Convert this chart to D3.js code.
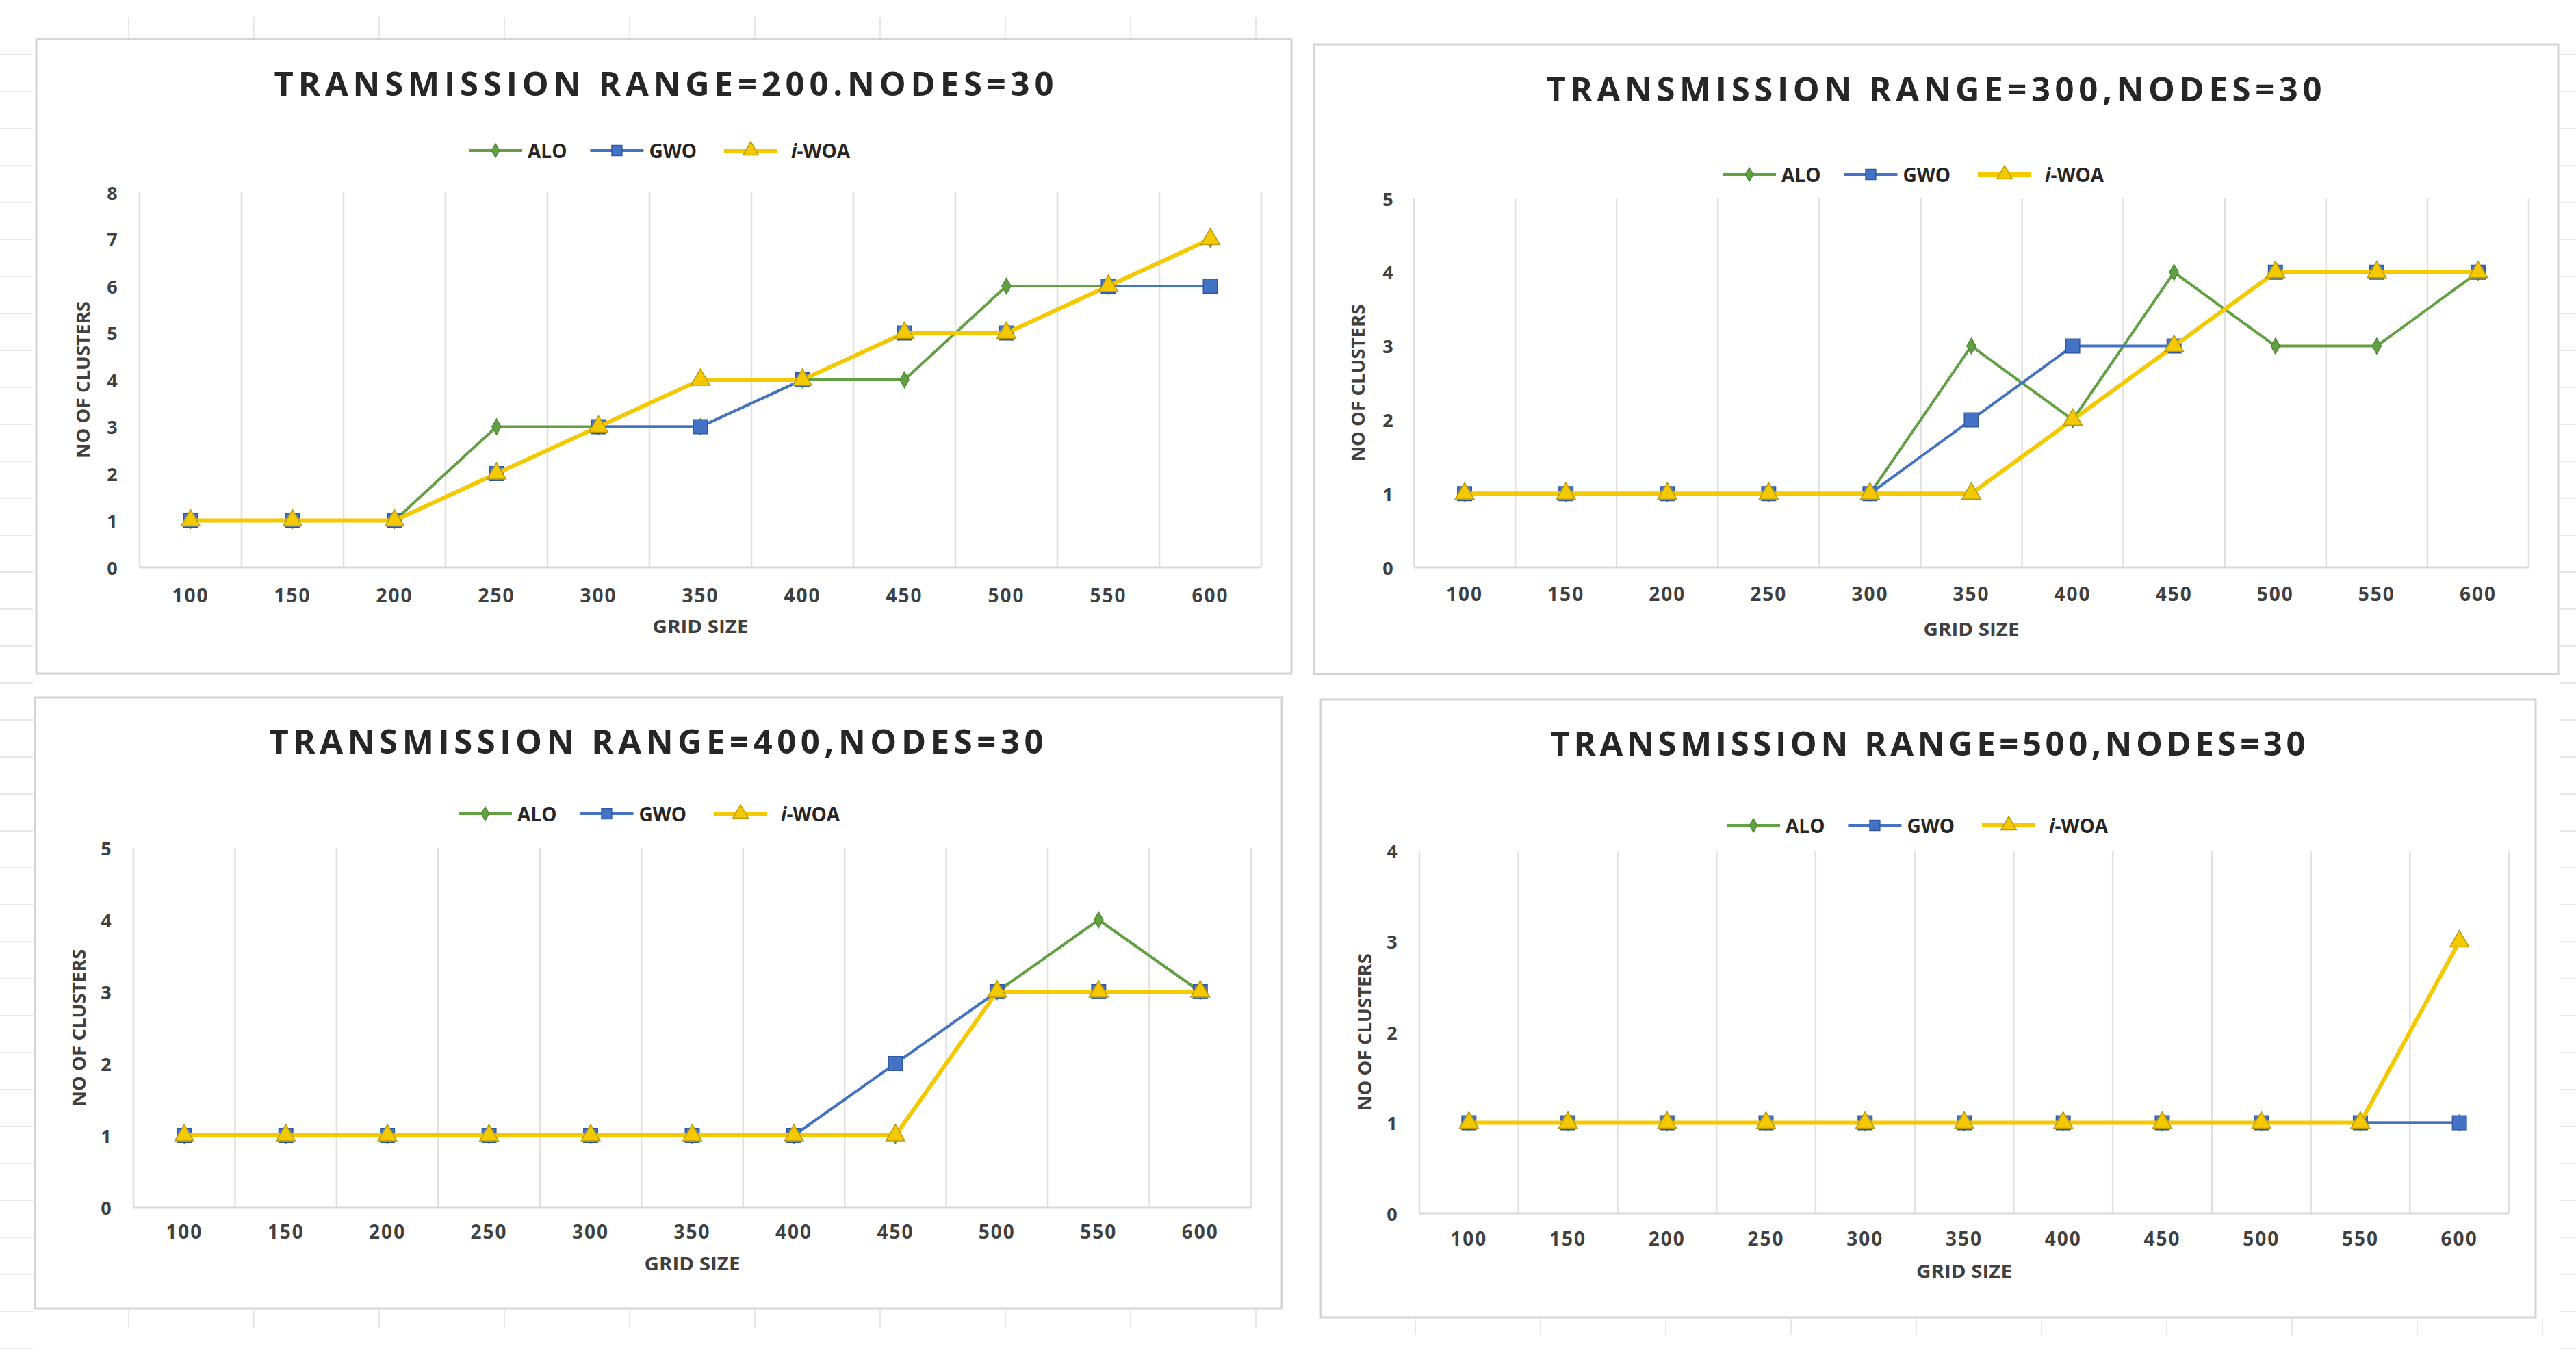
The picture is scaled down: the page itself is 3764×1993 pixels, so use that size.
<!DOCTYPE html>
<html>
<head>
<meta charset="utf-8">
<script src="https://cdn.jsdelivr.net/npm/d3@7"></script>
<style>
  html, body { margin: 0; padding: 0; background: #fff; }
  svg { display: block; }
  text { font-family: "Open Sans", sans-serif; }
</style>
</head>
<body>
<svg id="chart"></svg>
<script>
// ---- data ----
const gridSizes = ["100", "150", "200", "250", "300", "350", "400", "450", "500", "550", "600"];
const seriesNames = ["ALO", "GWO", "i-WOA"];
const titles = [
  "TRANSMISSION RANGE=200.NODES=30",
  "TRANSMISSION RANGE=300,NODES=30",
  "TRANSMISSION RANGE=400,NODES=30",
  "TRANSMISSION RANGE=500,NODES=30"
];
const yMaxes = [8, 5, 5, 4];

const alo200  = [1, 1, 1, 3, 3, 3, 4, 4, 6, 6, 7];
const gwo200  = [1, 1, 1, 2, 3, 3, 4, 5, 5, 6, 6];
const iwoa200 = [1, 1, 1, 2, 3, 4, 4, 5, 5, 6, 7];

const alo300  = [1, 1, 1, 1, 1, 3, 2, 4, 3, 3, 4];
const gwo300  = [1, 1, 1, 1, 1, 2, 3, 3, 4, 4, 4];
const iwoa300 = [1, 1, 1, 1, 1, 1, 2, 3, 4, 4, 4];

const alo400  = [1, 1, 1, 1, 1, 1, 1, 1, 3, 4, 3];
const gwo400  = [1, 1, 1, 1, 1, 1, 1, 2, 3, 3, 3];
const iwoa400 = [1, 1, 1, 1, 1, 1, 1, 1, 3, 3, 3];

const alo500  = [1, 1, 1, 1, 1, 1, 1, 1, 1, 1, 1];
const gwo500  = [1, 1, 1, 1, 1, 1, 1, 1, 1, 1, 1];
const iwoa500 = [1, 1, 1, 1, 1, 1, 1, 1, 1, 1, 3];

const panelSeries = [
  [alo200, gwo200, iwoa200],
  [alo300, gwo300, iwoa300],
  [alo400, gwo400, iwoa400],
  [alo500, gwo500, iwoa500]
];

// ---- layout (pixel positions of each chart box) ----
const layout = [
  { box: [53, 57, 1887, 984],   title: [970, 121, 1139],  legend: [685, 220],  plot: [204, 1843, 281, 829],   tickX: 164,  xTickY: 869,  xTitleY: 914,  yTitleX: 121 },
  { box: [1920, 65, 3738, 985], title: [2826, 129, 1133], legend: [2517, 255], plot: [2066, 3695, 290, 829],  tickX: 2028, xTickY: 867,  xTitleY: 918,  yTitleX: 1984 },
  { box: [51, 1019, 1873, 1912], title: [959, 1082, 1131], legend: [670, 1189], plot: [195, 1828, 1239, 1764], tickX: 155,  xTickY: 1799, xTitleY: 1845, yTitleX: 115 },
  { box: [1930, 1022, 3705, 1925], title: [2817, 1085, 1103], legend: [2523, 1206], plot: [2074, 3666, 1243, 1773], tickX: 2034, xTickY: 1809, xTitleY: 1856, yTitleX: 1994 }
];

const colors = ["#62A043", "#4472C4", "#F4C900"];
const strokes = ["#4f8a33", "#2f58a0", "#b89a10"];
const lineWidths = [4, 4, 6];
const markerSizes = [150, 420, 330];
const symbolTypes = [d3.symbolDiamond, d3.symbolSquare, d3.symbolTriangle];

const width = 3764, height = 1993;
const svg = d3.select("#chart").attr("width", width).attr("height", height);
svg.append("rect").attr("width", width).attr("height", height).attr("fill", "#fff");

// faint spreadsheet cell marks around the boxes
const deco = svg.append("g").attr("stroke", "#e8e8e8").attr("stroke-width", 2);
d3.range(188, 1900, 183).forEach(x => {
  deco.append("line").attr("x1", x).attr("x2", x).attr("y1", 1914).attr("y2", 1940);
  deco.append("line").attr("x1", x + 1880).attr("x2", x + 1880).attr("y1", 1927).attr("y2", 1950);
  deco.append("line").attr("x1", x).attr("x2", x).attr("y1", 25).attr("y2", 55);
});
d3.range(80, 1990, 54).forEach(y => {
  deco.append("line").attr("x1", 3740).attr("x2", 3764).attr("y1", y).attr("y2", y);
  deco.append("line").attr("x1", 0).attr("x2", 48).attr("y1", y).attr("y2", y);
});

function drawPanel(i) {
  const L = layout[i];
  const data = panelSeries[i];
  const g = svg.append("g");

  // chart border
  g.append("rect")
    .attr("x", L.box[0]).attr("y", L.box[1])
    .attr("width", L.box[2] - L.box[0]).attr("height", L.box[3] - L.box[1])
    .attr("fill", "#fff").attr("stroke", "#d4d4d4").attr("stroke-width", 3);

  // title
  g.append("text")
    .attr("x", L.title[0]).attr("y", L.title[1])
    .attr("text-anchor", "middle").attr("dominant-baseline", "central")
    .attr("textLength", L.title[2]).attr("lengthAdjust", "spacing")
    .attr("font-size", 49).attr("font-weight", 700).attr("fill", "#262626")
    .text(titles[i]);

  const x = d3.scaleBand().domain(gridSizes).range([L.plot[0], L.plot[1]]);
  const y = d3.scaleLinear().domain([0, yMaxes[i]]).range([L.plot[3], L.plot[2]]);
  const cx = d => x(d) + x.bandwidth() / 2;

  // vertical gridlines at category boundaries
  const bounds = gridSizes.map(d => x(d)).concat([x.range()[1]]);
  g.append("g").selectAll("line").data(bounds).join("line")
    .attr("x1", d => d).attr("x2", d => d)
    .attr("y1", y(yMaxes[i])).attr("y2", y(0))
    .attr("stroke", "#e0e0e0").attr("stroke-width", 2.5);

  // baseline
  g.append("line")
    .attr("x1", L.plot[0]).attr("x2", L.plot[1])
    .attr("y1", y(0)).attr("y2", y(0))
    .attr("stroke", "#d9d9d9").attr("stroke-width", 3);

  // y tick labels
  g.append("g").selectAll("text").data(y.ticks(yMaxes[i])).join("text")
    .attr("x", L.tickX).attr("y", d => y(d))
    .attr("text-anchor", "middle").attr("dominant-baseline", "central")
    .attr("font-size", 27).attr("font-weight", 700).attr("fill", "#404040")
    .text(d => d);

  // x tick labels
  g.append("g").selectAll("text").data(gridSizes).join("text")
    .attr("x", cx).attr("y", L.xTickY)
    .attr("text-anchor", "middle").attr("dominant-baseline", "central")
    .attr("font-size", 28).attr("font-weight", 700).attr("fill", "#404040")
    .attr("letter-spacing", 2)
    .text(d => d);

  // axis titles
  g.append("text")
    .attr("x", (L.plot[0] + L.plot[1]) / 2).attr("y", L.xTitleY)
    .attr("text-anchor", "middle").attr("dominant-baseline", "central")
    .attr("font-size", 27).attr("font-weight", 700).attr("fill", "#404040")
    .attr("textLength", 140).attr("lengthAdjust", "spacingAndGlyphs")
    .text("GRID SIZE");
  const ym = (L.plot[2] + L.plot[3]) / 2;
  g.append("text")
    .attr("transform", `translate(${L.yTitleX},${ym}) rotate(-90)`)
    .attr("text-anchor", "middle").attr("dominant-baseline", "central")
    .attr("font-size", 26).attr("font-weight", 700).attr("fill", "#404040")
    .attr("textLength", 230).attr("lengthAdjust", "spacingAndGlyphs")
    .text("NO OF CLUSTERS");

  // series
  const line = d3.line().x((d, k) => cx(gridSizes[k])).y(d => y(d));
  data.forEach((vals, s) => {
    const sg = g.append("g");
    sg.append("path").datum(vals)
      .attr("d", line)
      .attr("fill", "none").attr("stroke", colors[s])
      .attr("stroke-width", lineWidths[s]).attr("stroke-linejoin", "round");
    sg.selectAll("path.m").data(vals).join("path").attr("class", "m")
      .attr("transform", (d, k) => `translate(${cx(gridSizes[k])},${y(d)})`)
      .attr("d", d3.symbol().type(symbolTypes[s]).size(markerSizes[s]))
      .attr("fill", colors[s]).attr("stroke", strokes[s]).attr("stroke-width", 1.5);
  });

  // legend
  let lx = L.legend[0];
  const ly = L.legend[1];
  seriesNames.forEach((name, s) => {
    const lg = g.append("g");
    lg.append("line").attr("x1", lx).attr("x2", lx + 78).attr("y1", ly).attr("y2", ly)
      .attr("stroke", colors[s]).attr("stroke-width", lineWidths[s]);
    lg.append("path").attr("transform", `translate(${lx + 39},${ly})`)
      .attr("d", d3.symbol().type(symbolTypes[s]).size(s === 0 ? 110 : 220)())
      .attr("fill", colors[s]).attr("stroke", strokes[s]).attr("stroke-width", 1.5);
    const t = lg.append("text")
      .attr("x", lx + 86 + (s === 2 ? 12 : 0)).attr("y", ly)
      .attr("dominant-baseline", "central")
      .attr("font-size", 28).attr("font-weight", 700).attr("fill", "#262626");
    if (name.startsWith("i-")) {
      t.append("tspan").attr("font-style", "italic").text("i");
      t.append("tspan").text(name.slice(1));
    } else {
      t.text(name);
    }
    lx += 86 + (s === 2 ? 12 : 0) + t.node().getComputedTextLength() + 34 + (s === 1 ? 6 : 0);
  });
}

d3.range(4).forEach(drawPanel);
</script>
</body>
</html>
